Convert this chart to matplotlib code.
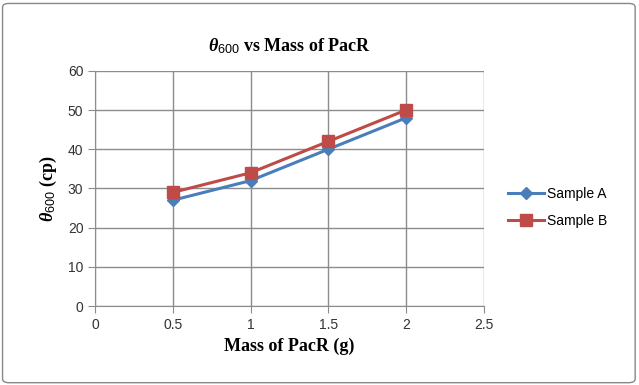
import matplotlib.pyplot as plt
from matplotlib.patches import FancyBboxPatch

mass = [0.5, 1.0, 1.5, 2.0]
sample_a = [27, 32, 40, 48]
sample_b = [29, 34, 42, 50]
x_ticks = [0, 0.5, 1, 1.5, 2, 2.5]
x_labels = ['0', '0.5', '1', '1.5', '2', '2.5']
y_ticks = [0, 10, 20, 30, 40, 50, 60]

plt.rcParams['mathtext.fontset'] = 'custom'
plt.rcParams['mathtext.rm'] = 'Liberation Sans'
plt.rcParams['mathtext.it'] = 'Liberation Serif:italic'
plt.rcParams['mathtext.bf'] = 'Liberation Serif:bold'
plt.rcParams['mathtext.bfit'] = 'Liberation Serif:bold:italic'

fig = plt.figure(figsize=(6.39, 3.85), dpi=100)
ax = fig.add_axes([0.149, 0.205, 0.608, 0.611])

# chart frame
fig.patches.append(FancyBboxPatch((0.004, 0.006), 0.99, 0.985,
                                  boxstyle='round,pad=0,rounding_size=0.01',
                                  transform=fig.transFigure, fill=False,
                                  edgecolor='#888888', linewidth=1))

ax.plot(mass, sample_a, color='#4a7ebb', linewidth=2.2, marker='D',
        markersize=6, label='Sample A', zorder=3)
ax.plot(mass, sample_b, color='#be4b48', linewidth=2.2, marker='s',
        markersize=8, label='Sample B', zorder=4)

ax.set_xlim(0, 2.5)
ax.set_ylim(0, 60)
ax.set_xticks(x_ticks)
ax.set_xticklabels(x_labels)
ax.set_yticks(y_ticks)
ax.grid(True, color='#8c8c8c', linewidth=1)
ax.set_axisbelow(True)
for side in ['top', 'right']:
    ax.spines[side].set_visible(False)
for side in ['left', 'bottom']:
    ax.spines[side].set_color('#8c8c8c')
ax.tick_params(direction='out', length=5, color='#8c8c8c', labelsize=10,
               labelcolor='#333333')
for lbl in ax.get_xticklabels() + ax.get_yticklabels():
    lbl.set_fontfamily('Liberation Sans')

serif = 'Liberation Serif'
ax.set_title(r'$\mathbfit{\theta}_{\mathrm{600}}$ vs Mass of PacR', fontsize=13,
             fontweight='bold', fontfamily=serif, pad=14)
ax.set_xlabel('Mass of PacR (g)', fontsize=13, fontweight='bold',
              fontfamily=serif, labelpad=4)
ax.set_ylabel(r'$\mathbfit{\theta}_{\mathrm{600}}$ (cp)', fontsize=13,
              fontweight='bold', fontfamily=serif, labelpad=6)

leg = ax.legend(loc='center left', bbox_to_anchor=(1.03, 0.42),
                frameon=False, fontsize=10, handlelength=2.6,
                labelspacing=0.9, handletextpad=0.2)
for t in leg.get_texts():
    t.set_fontfamily('Liberation Sans')

fig.savefig('out.png', dpi=100)
